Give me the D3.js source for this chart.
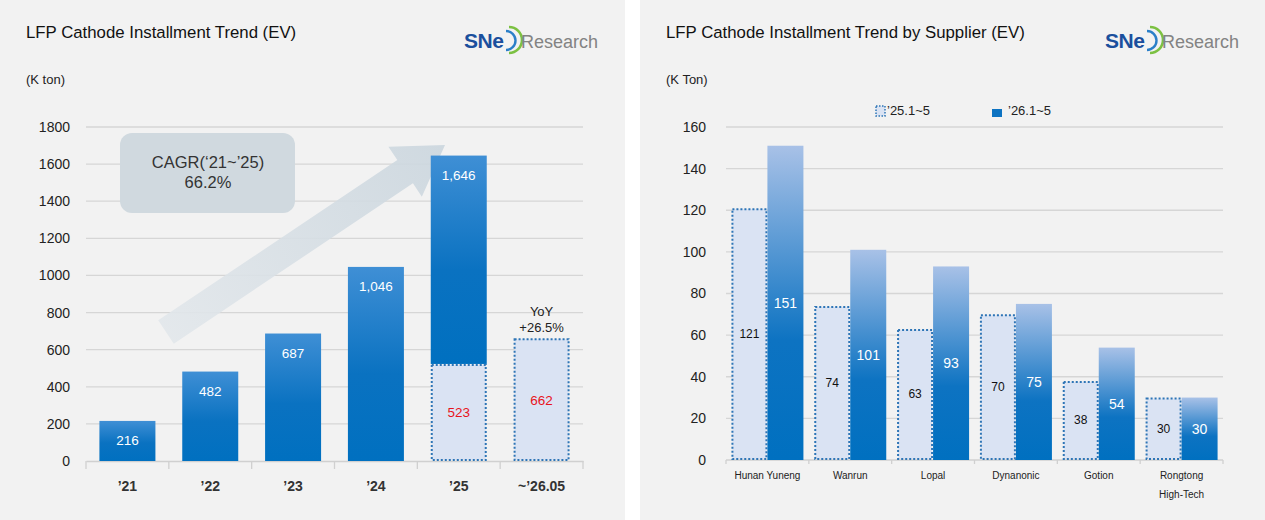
<!DOCTYPE html>
<html><head><meta charset="utf-8">
<script src="https://cdn.jsdelivr.net/npm/d3@7"></script>
<style>
html,body{margin:0;padding:0;background:#fff;}
svg{display:block;font-family:"Liberation Sans",Arial,sans-serif;}
</style></head>
<body>
<svg id="c" width="1265" height="520"></svg>
<script>
// ---------- DATA ----------
const yearCats = ["’21","’22","’23","’24","’25","~’26.05"];
const yearTotals = [216, 482, 687, 1046, 1646, null];
const yearPartial = [null, null, null, null, 523, 662];
const leftTicks = [0,200,400,600,800,1000,1200,1400,1600,1800];

const suppliers = ["Hunan Yuneng","Wanrun","Lopal","Dynanonic","Gotion","Rongtong\nHigh-Tech"];
const s25 = [121, 74, 63, 70, 38, 30];
const s26 = [151, 101, 93, 75, 54, 30];
const rightTicks = [0,20,40,60,80,100,120,140,160];
const seriesNames = ["’25.1~5","’26.1~5"];

// ---------- SETUP ----------
const svg = d3.select("#c");
const defs = svg.append("defs");
const g1 = defs.append("linearGradient").attr("id","gLeft").attr("x1",0).attr("y1",0).attr("x2",0).attr("y2",1);
g1.append("stop").attr("offset","0%").attr("stop-color","#3f8fd5");
g1.append("stop").attr("offset","55%").attr("stop-color","#0a72c1");
g1.append("stop").attr("offset","100%").attr("stop-color","#0070c0");
const g2 = defs.append("linearGradient").attr("id","gRight").attr("x1",0).attr("y1",0).attr("x2",0).attr("y2",1);
g2.append("stop").attr("offset","0%").attr("stop-color","#a8c1e7");
g2.append("stop").attr("offset","62%").attr("stop-color","#0d73c2");
g2.append("stop").attr("offset","100%").attr("stop-color","#0070c0");
const ga = defs.append("linearGradient").attr("id","gArrow").attr("gradientUnits","userSpaceOnUse")
  .attr("x1",166).attr("y1",332).attr("x2",445).attr("y2",145);
ga.append("stop").attr("offset","0%").attr("stop-color","#e2e7eb");
ga.append("stop").attr("offset","100%").attr("stop-color","#cbd6de");

// panels
svg.append("rect").attr("x",0).attr("y",0).attr("width",625).attr("height",520).attr("fill","#f2f2f2");
svg.append("rect").attr("x",640).attr("y",0).attr("width",625).attr("height",520).attr("fill","#f2f2f2");

function logo(x, y){
  const g = svg.append("g").attr("transform",`translate(${x},${y})`);
  g.append("text").attr("x",0).attr("y",0).attr("font-size",21).attr("font-weight","bold")
    .attr("fill","#1b4f9d").attr("letter-spacing","-0.5").text("SNe");
  g.append("path").attr("d","M42,-17 A9.5,9.5 0 0 1 42,2").attr("fill","none").attr("stroke","#2a7fc8").attr("stroke-width",2.4);
  g.append("path").attr("d","M45,-21 A13,13 0 0 1 45,5").attr("fill","none").attr("stroke","#7cc142").attr("stroke-width",2.6);
  g.append("text").attr("x",57).attr("y",0).attr("font-size",18).attr("fill","#838383").text("Research");
}

// ================= LEFT CHART =================
svg.append("text").attr("x",26).attr("y",38).attr("font-size",16.8).attr("fill","#111")
  .text("LFP Cathode Installment Trend (EV)");
svg.append("text").attr("x",26).attr("y",84).attr("font-size",13).attr("fill","#222").text("(K ton)");
logo(464, 48);

const xL = d3.scaleBand().domain(yearCats).range([86,583]).padding(0);
const yL = d3.scaleLinear().domain([0,1800]).range([461,127]);
const bwL = xL.bandwidth()*0.676;

const L = svg.append("g");
// grid
L.append("g").selectAll("line").data(leftTicks.filter(d=>d>0)).join("line")
  .attr("x1",86).attr("x2",583).attr("y1",d=>yL(d)).attr("y2",d=>yL(d))
  .attr("stroke","#d6d6d6").attr("stroke-width",1.3);
// y axis labels
const axL = d3.axisLeft(yL).tickValues(leftTicks).tickFormat(d3.format("d")).tickSize(0).tickPadding(16);
const axLg = L.append("g").attr("transform","translate(86,0)").call(axL);
axLg.select(".domain").remove();
axLg.selectAll("text").attr("font-size",14).attr("fill","#222").attr("font-family","Liberation Sans, Arial, sans-serif");
// baseline + x axis
const axB = d3.axisBottom(xL).tickSize(0).tickPadding(20);
const axBg = L.append("g").attr("transform",`translate(0,${yL(0)})`).call(axB);
axBg.select(".domain").attr("stroke","#d0d0d0").attr("stroke-width",1.3);
axBg.selectAll("text").attr("font-size",14).attr("font-weight","bold").attr("fill","#333")
  .attr("font-family","Liberation Sans, Arial, sans-serif");
L.append("g").selectAll("line").data(d3.range(yearCats.length+1)).join("line")
  .attr("x1",i=>86+i*xL.step()).attr("x2",i=>86+i*xL.step())
  .attr("y1",yL(0)).attr("y2",yL(0)+8).attr("stroke","#d0d0d0").attr("stroke-width",1.3);

// arrow
(function(){
  const x0=166,y0=332,x1=445,y1=145;
  const ang=Math.atan2(y1-y0,x1-x0), len=Math.hypot(x1-x0,y1-y0);
  const sw=14, hw=30, hl=48;
  const pts=[[0,-sw],[len-hl,-sw],[len-hl,-hw],[len,0],[len-hl,hw],[len-hl,sw],[0,sw]];
  const c=Math.cos(ang), s=Math.sin(ang);
  const p=pts.map(([u,v])=>[x0+u*c-v*s, y0+u*s+v*c]);
  L.append("path").attr("d","M"+p.map(d=>d.join(",")).join("L")+"Z")
    .attr("fill","url(#gArrow)").attr("opacity",0.9);
})();

// CAGR box
L.append("rect").attr("x",120).attr("y",133).attr("width",175).attr("height",80).attr("rx",12)
  .attr("fill","#d0d9df");
L.append("text").attr("x",208).attr("y",168).attr("text-anchor","middle").attr("font-size",16.5).attr("fill","#333").text("CAGR(‘21~’25)");
L.append("text").attr("x",208).attr("y",188).attr("text-anchor","middle").attr("font-size",16.5).attr("fill","#333").text("66.2%");

// bars
const idx = d3.range(yearCats.length);
L.append("g").selectAll("rect").data(idx.filter(i=>yearTotals[i]!=null)).join("rect")
  .attr("x",i=>xL(yearCats[i])+(xL.bandwidth()-bwL)/2).attr("width",bwL)
  .attr("y",i=>yL(yearTotals[i]))
  .attr("height",i=>yL(yearPartial[i]!=null?yearPartial[i]:0)-yL(yearTotals[i]))
  .attr("fill","url(#gLeft)");
L.append("g").selectAll("rect").data(idx.filter(i=>yearPartial[i]!=null)).join("rect")
  .attr("x",i=>xL(yearCats[i])+(xL.bandwidth()-bwL)/2+1).attr("width",bwL-2)
  .attr("y",i=>yL(yearPartial[i])+1).attr("height",i=>yL(0)-yL(yearPartial[i])-2)
  .attr("fill","#dae3f3").attr("stroke","#2e75b6").attr("stroke-width",2).attr("stroke-dasharray","2,2");
// labels
L.append("g").selectAll("text").data(idx.filter(i=>yearTotals[i]!=null)).join("text")
  .attr("x",i=>xL(yearCats[i])+xL.bandwidth()/2).attr("y",i=>yL(yearTotals[i])+24)
  .attr("text-anchor","middle").attr("font-size",13.5).attr("fill","#fff")
  .text(i=>d3.format(",")(yearTotals[i]));
L.append("g").selectAll("text").data(idx.filter(i=>yearPartial[i]!=null)).join("text")
  .attr("x",i=>xL(yearCats[i])+xL.bandwidth()/2).attr("y",i=>(yL(yearPartial[i])+yL(0))/2+5)
  .attr("text-anchor","middle").attr("font-size",13.5).attr("fill","#e8141c")
  .text(i=>d3.format(",")(yearPartial[i]));
const lastX = xL(yearCats[5])+xL.bandwidth()/2;
L.append("text").attr("x",lastX).attr("y",316).attr("text-anchor","middle").attr("font-size",13).attr("fill","#222").text("YoY");
L.append("text").attr("x",lastX).attr("y",332).attr("text-anchor","middle").attr("font-size",13).attr("fill","#222").text("+26.5%");

// ================= RIGHT CHART =================
svg.append("text").attr("x",666).attr("y",38).attr("font-size",16.8).attr("fill","#111")
  .text("LFP Cathode Installment Trend by Supplier (EV)");
svg.append("text").attr("x",666).attr("y",84).attr("font-size",13).attr("fill","#222").text("(K Ton)");
logo(1105, 48);

const xR = d3.scaleBand().domain(suppliers).range([726,1223]).padding(0);
const xS = d3.scaleBand().domain([0,1]).range([0,72]);
const yR = d3.scaleLinear().domain([0,160]).range([460,127]);
const R = svg.append("g");
R.append("g").selectAll("line").data(rightTicks.filter(d=>d>0)).join("line")
  .attr("x1",726).attr("x2",1223).attr("y1",d=>yR(d)).attr("y2",d=>yR(d))
  .attr("stroke","#d6d6d6").attr("stroke-width",1.3);
const axR = d3.axisLeft(yR).tickValues(rightTicks).tickSize(0).tickPadding(20);
const axRg = R.append("g").attr("transform","translate(726,0)").call(axR);
axRg.select(".domain").remove();
axRg.selectAll("text").attr("font-size",14).attr("fill","#222").attr("font-family","Liberation Sans, Arial, sans-serif");
R.append("line").attr("x1",726).attr("x2",1223).attr("y1",yR(0)).attr("y2",yR(0)).attr("stroke","#d0d0d0").attr("stroke-width",1.3);
R.append("g").selectAll("line").data(d3.range(suppliers.length+1)).join("line")
  .attr("x1",i=>726+i*xR.step()).attr("x2",i=>726+i*xR.step())
  .attr("y1",yR(0)).attr("y2",yR(0)+4).attr("stroke","#d0d0d0").attr("stroke-width",1.3);
// x labels
const xl = R.append("g").selectAll("text").data(suppliers).join("text")
  .attr("x",d=>xR(d)+xR.bandwidth()/2).attr("y",479).attr("text-anchor","middle")
  .attr("font-size",10).attr("fill","#222");
xl.each(function(d){
  const t=d3.select(this);
  d.split("\n").forEach((line,k)=>t.append("tspan").attr("x",xR(d)+xR.bandwidth()/2).attr("dy",k?19:0).text(line));
});
const off = (xR.bandwidth()-72)/2;
const si = d3.range(suppliers.length);
// 25 bars dotted
R.append("g").selectAll("rect").data(si).join("rect")
  .attr("x",i=>xR(suppliers[i])+off+xS(0)+1).attr("width",xS.bandwidth()-2)
  .attr("y",i=>yR(s25[i])+1).attr("height",i=>yR(0)-yR(s25[i])-2)
  .attr("fill","#dae3f3").attr("stroke","#2e75b6").attr("stroke-width",2).attr("stroke-dasharray","2,2");
R.append("g").selectAll("rect").data(si).join("rect")
  .attr("x",i=>xR(suppliers[i])+off+xS(1)).attr("width",xS.bandwidth())
  .attr("y",i=>yR(s26[i])).attr("height",i=>yR(0)-yR(s26[i]))
  .attr("fill","url(#gRight)");
R.append("g").selectAll("text").data(si).join("text")
  .attr("x",i=>xR(suppliers[i])+off+xS(0)+xS.bandwidth()/2).attr("y",i=>(yR(s25[i])+yR(0))/2+4)
  .attr("text-anchor","middle").attr("font-size",12).attr("fill","#111").text(i=>s25[i]);
R.append("g").selectAll("text").data(si).join("text")
  .attr("x",i=>xR(suppliers[i])+off+xS(1)+xS.bandwidth()/2).attr("y",i=>(yR(s26[i])+yR(0))/2+5)
  .attr("text-anchor","middle").attr("font-size",14).attr("fill","#fff").text(i=>s26[i]);
// legend
const lg = R.append("g");
lg.append("rect").attr("x",876).attr("y",106).attr("width",9).attr("height",10)
  .attr("fill","#dae3f3").attr("stroke","#2e75b6").attr("stroke-width",1.5).attr("stroke-dasharray","1.5,1.5");
lg.append("text").attr("x",887).attr("y",115).attr("font-size",13).attr("fill","#222").text(seriesNames[0]);
lg.append("rect").attr("x",992).attr("y",109).attr("width",10).attr("height",8).attr("fill","#0d73c2");
lg.append("text").attr("x",1008).attr("y",115).attr("font-size",13).attr("fill","#222").text(seriesNames[1]);
</script>
</body></html>
